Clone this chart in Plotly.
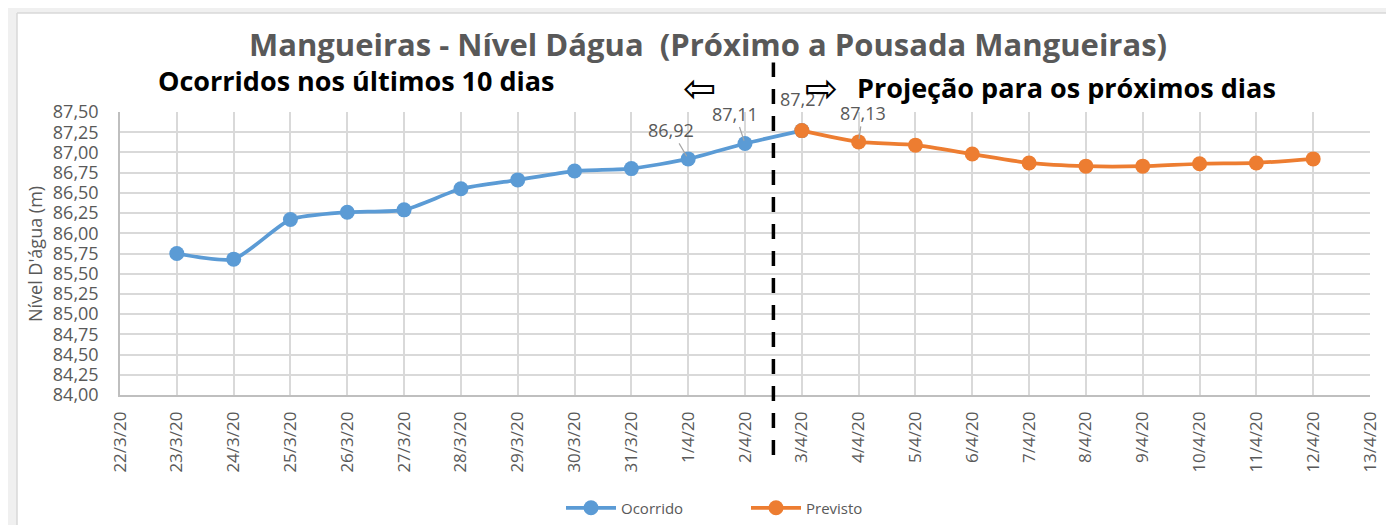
import plotly.graph_objects as go

# ---- data ----
dates_ocorrido = ["2020-03-23", "2020-03-24", "2020-03-25", "2020-03-26", "2020-03-27",
                  "2020-03-28", "2020-03-29", "2020-03-30", "2020-03-31", "2020-04-01",
                  "2020-04-02", "2020-04-03"]
nivel_ocorrido = [85.75, 85.68, 86.17, 86.26, 86.29, 86.55, 86.66, 86.77, 86.80, 86.92, 87.11, 87.27]

dates_previsto = ["2020-04-03", "2020-04-04", "2020-04-05", "2020-04-06", "2020-04-07",
                  "2020-04-08", "2020-04-09", "2020-04-10", "2020-04-11", "2020-04-12"]
nivel_previsto = [87.27, 87.13, 87.09, 86.98, 86.87, 86.83, 86.83, 86.86, 86.87, 86.92]

# labelled points: (date, value, text, ax, ay)
labels = [
    ("2020-04-01", 86.92, "86,92", -17, -29),
    ("2020-04-02", 87.11, "87,11", -10, -30),
    ("2020-04-04", 87.13, "87,13", 4, -29),
]
label_top = ("2020-04-03", 87.27, "87,27")

title_text = "Mangueiras - Nível Dágua  (Próximo a Pousada Mangueiras)"
left_note = "Ocorridos nos últimos 10 dias"
right_note = "Projeção para os próximos dias"
ytitle = "Nível D'água (m)"

BLUE = "#5b9bd5"
ORANGE = "#ed7d31"
GRID = "#d9d9d9"
TXT = "#595959"
FONT = "Open Sans"

fig = go.Figure()
fig.add_trace(go.Scatter(
    x=dates_ocorrido, y=nivel_ocorrido, name="Ocorrido", mode="lines+markers",
    line=dict(color=BLUE, width=3.75, shape="spline", smoothing=0.6),
    marker=dict(color=BLUE, size=15)))
fig.add_trace(go.Scatter(
    x=dates_previsto, y=nivel_previsto, name="Previsto", mode="lines+markers",
    line=dict(color=ORANGE, width=3.75, shape="spline", smoothing=0.6),
    marker=dict(color=ORANGE, size=15)))

annotations = []
for d, v, t, ax, ay in labels:
    annotations.append(dict(x=d, y=v, xref="x", yref="y", text=t, showarrow=True,
                            arrowhead=0, arrowwidth=1.2, arrowcolor="#a6a6a6",
                            ax=ax, ay=ay, standoff=3,
                            font=dict(family=FONT, size=18, color=TXT)))
annotations.append(dict(x=label_top[0], y=label_top[1], xref="x", yref="y", text=label_top[2],
                        showarrow=False, xshift=1, yshift=32, xanchor="center", yanchor="middle",
                        font=dict(family=FONT, size=18, color=TXT)))
annotations += [
    dict(x=0.1888, y=1.113, xref="paper", yref="paper", text="<b>" + left_note + "</b>",
         xanchor="center", yanchor="middle",
         showarrow=False, font=dict(family=FONT, size=27, color="black")),
    dict(x=0.757, y=1.085, xref="paper", yref="paper", text="<b>" + right_note + "</b>",
         xanchor="center", yanchor="middle",
         showarrow=False, font=dict(family=FONT, size=27, color="black")),
    dict(x=0.464, y=1.085, xref="paper", yref="paper", text="⇦",
         xanchor="center", yanchor="middle",
         showarrow=False, font=dict(family="DejaVu Sans", size=40, color="black")),
    dict(x=0.5616, y=1.085, xref="paper", yref="paper", text="⇨",
         xanchor="center", yanchor="middle",
         showarrow=False, font=dict(family="DejaVu Sans", size=40, color="black")),
    dict(x=-0.068, y=0.498, xref="paper", yref="paper", text=ytitle, textangle=-90,
         xanchor="center", yanchor="middle",
         showarrow=False, font=dict(family=FONT, size=18, color=TXT)),
]

shapes = [
    # outer gray frame strips
    dict(type="rect", xref="paper", yref="paper", x0=-0.1, x1=1.1, y0=1.3498, y1=1.40,
         fillcolor="#f0f0f0", line=dict(width=0), layer="below"),
    dict(type="line", xref="paper", yref="paper", x0=-0.0824, x1=1.1, y0=1.3498, y1=1.3498,
         line=dict(color="#d9d9d9", width=1.5), layer="below"),
    dict(type="rect", xref="paper", yref="paper", x0=-0.092, x1=-0.0824, y0=-0.5, y1=1.40,
         fillcolor="#f0f0f0", line=dict(width=0), layer="below"),
    dict(type="line", xref="paper", yref="paper", x0=-0.0824, x1=-0.0824, y0=-0.5, y1=1.3498,
         line=dict(color="#d9d9d9", width=1.5), layer="below"),
    # dashed divider between observed and forecast
    dict(type="line", xref="x", yref="paper", x0="2020-04-02 12:00", x1="2020-04-02 12:00",
         y0=-0.212, y1=1.175, line=dict(color="black", width=3.5, dash="15px,12px")),
]

fig.update_layout(
    width=1386, height=517,
    margin=dict(l=112, r=24, t=104, b=130),
    paper_bgcolor="white", plot_bgcolor="white",
    separators=",.",
    font=dict(family=FONT, color=TXT),
    title=dict(text="<b>" + title_text + "</b>", x=700 / 1386, xanchor="center",
               y=1 - 37 / 517, yanchor="middle",
               font=dict(family=FONT, size=31, color=TXT)),
    xaxis=dict(type="date", range=["2020-03-22", "2020-04-13"], dtick=86400000,
               tick0="2020-03-22", tickformat="%-d/%-m/%y", tickangle=-90,
               showgrid=True, gridcolor=GRID, gridwidth=1.5,
               showline=True, linecolor="#bfbfbf", linewidth=1.5,
               ticks="", ticklabelstandoff=8, automargin=False,
               tickfont=dict(family=FONT, size=17, color=TXT), zeroline=False),
    yaxis=dict(range=[84, 87.5], dtick=0.25, tick0=84, tickformat=".2f",
               showgrid=True, gridcolor=GRID, gridwidth=1.5,
               showline=True, linecolor="#bfbfbf", linewidth=1.5,
               ticks="", ticklabelstandoff=16, automargin=False,
               tickfont=dict(family=FONT, size=18, color=TXT), zeroline=False),
    legend=dict(orientation="h", xref="container", yref="container",
                x=553 / 1386, xanchor="left", y=1 - 500 / 517, yanchor="middle",
                font=dict(family=FONT, size=15, color=TXT), itemwidth=50,
                entrywidth=120, bgcolor="rgba(0,0,0,0)"),
    annotations=annotations,
    shapes=shapes,
)

fig.write_html("out.html")
